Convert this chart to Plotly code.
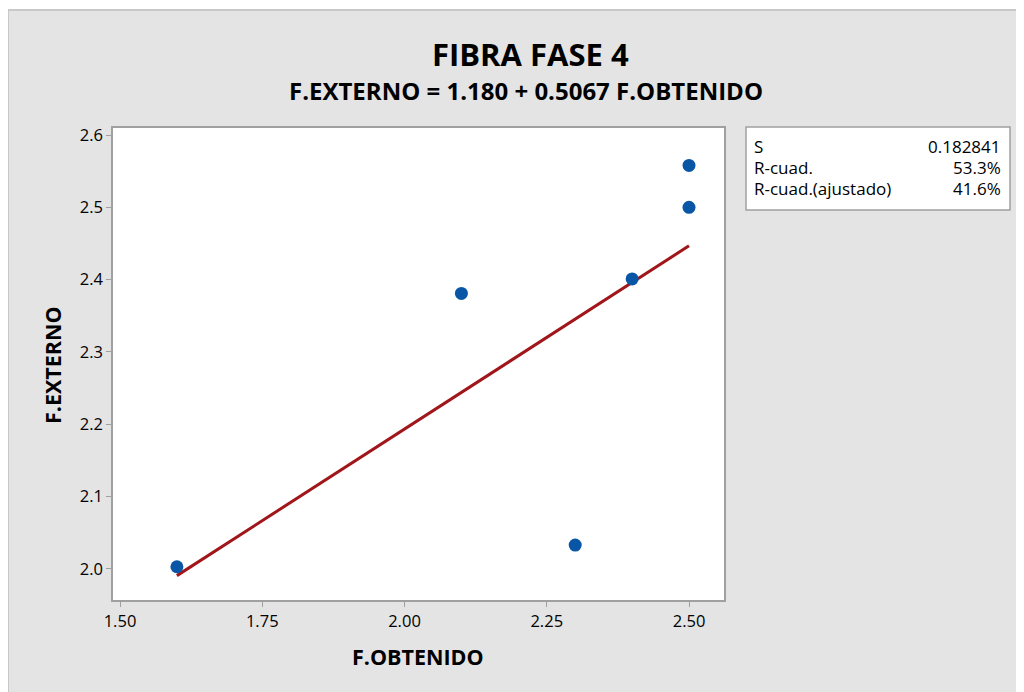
import plotly.graph_objects as go

# observed data
f_obtenido = [1.60, 2.10, 2.30, 2.40, 2.50, 2.50]
f_externo = [2.003, 2.381, 2.033, 2.401, 2.500, 2.558]

# fitted line endpoints (F.EXTERNO = 1.180 + 0.5067 F.OBTENIDO)
fit_x = [1.60, 2.50]
fit_y = [1.9907, 2.4468]

x_ticks = [1.50, 1.75, 2.00, 2.25, 2.50]
y_ticks = [2.0, 2.1, 2.2, 2.3, 2.4, 2.5, 2.6]

stat_names = ["S", "R-cuad.", "R-cuad.(ajustado)"]
stat_values = ["0.182841", "53.3%", "41.6%"]

# page body adds an 8px offset, so the figure is a bit smaller
OFF = 8
W, H = 1024 - OFF, 692 - OFF
L, R, T, B = 113 - OFF, 724 - OFF, 128 - OFF, 600 - OFF
FONT = "Open Sans, Noto Sans, sans-serif"
GRAY_BG = "#e4e4e4"


def px_x(px):
    return (px - OFF - L) / (R - L)


def px_y(py):
    return (B - (py - OFF)) / (B - T)


fig = go.Figure()

fig.add_trace(go.Scatter(
    x=fit_x, y=fit_y, mode="lines",
    line=dict(color="#a0161a", width=3),
    showlegend=False, hoverinfo="skip"
))
fig.add_trace(go.Scatter(
    x=f_obtenido, y=f_externo, mode="markers",
    marker=dict(color="#0a56a6", size=13),
    showlegend=False
))

# white strips at the top/left edge plus the panel border
fig.add_shape(type="rect", xref="paper", yref="paper",
              x0=px_x(0), x1=px_x(1030), y0=px_y(10), y1=px_y(-5),
              fillcolor="white", line_width=0, layer="below")
fig.add_shape(type="line", xref="paper", yref="paper",
              x0=px_x(8), x1=px_x(1030), y0=px_y(10), y1=px_y(10),
              line=dict(color="#c8c8c8", width=2), layer="below")
fig.add_shape(type="line", xref="paper", yref="paper",
              x0=px_x(8), x1=px_x(8), y0=px_y(10), y1=px_y(700),
              line=dict(color="#c8c8c8", width=2), layer="below")

# stats box
fig.add_shape(type="rect", xref="paper", yref="paper",
              x0=px_x(746), x1=px_x(1010), y0=px_y(210), y1=px_y(127),
              fillcolor="white", line=dict(color="#a0a0a0", width=1.5))

annotations = []
for i, (name, val) in enumerate(zip(stat_names, stat_values)):
    yy = px_y(146 + 21 * i)
    annotations.append(dict(x=px_x(752), y=yy, xref="paper", yref="paper",
                            text=name, showarrow=False, xanchor="left",
                            yanchor="middle", font=dict(size=17, color="black", family=FONT)))
    annotations.append(dict(x=px_x(1003), y=yy, xref="paper", yref="paper",
                            text=val, showarrow=False, xanchor="right",
                            yanchor="middle", font=dict(size=17, color="black", family=FONT)))

annotations.append(dict(x=px_x(530), y=px_y(54), xref="paper", yref="paper",
                        text="<b>FIBRA FASE 4</b>", showarrow=False,
                        xanchor="center", yanchor="middle",
                        font=dict(size=31, color="black", family=FONT)))
annotations.append(dict(x=px_x(526), y=px_y(90), xref="paper", yref="paper",
                        text="<b>F.EXTERNO = 1.180 + 0.5067 F.OBTENIDO</b>", showarrow=False,
                        xanchor="center", yanchor="middle",
                        font=dict(size=24, color="black", family=FONT)))
annotations.append(dict(x=px_x(418), y=px_y(656), xref="paper", yref="paper",
                        text="<b>F.OBTENIDO</b>", showarrow=False,
                        xanchor="center", yanchor="middle",
                        font=dict(size=21.5, color="black", family=FONT)))
annotations.append(dict(x=px_x(52), y=px_y(365), xref="paper", yref="paper",
                        text="<b>F.EXTERNO</b>", showarrow=False, textangle=-90,
                        xanchor="center", yanchor="middle",
                        font=dict(size=21.5, color="black", family=FONT)))

axis_common = dict(showgrid=False, zeroline=False, showline=True, mirror=True,
                   linecolor="#a0a0a0", linewidth=1.5, ticks="outside",
                   ticklen=5, tickcolor="#a0a0a0",
                   tickfont=dict(size=16.5, color="black", family=FONT))

fig.update_layout(
    width=W, height=H,
    margin=dict(l=L, r=W - R, t=T, b=H - B),
    paper_bgcolor=GRAY_BG, plot_bgcolor="white",
    xaxis=dict(range=[1.4877, 2.5615], tickvals=x_ticks, tickformat=".2f", **axis_common),
    yaxis=dict(range=[1.957, 2.6097], tickvals=y_ticks, tickformat=".1f", **axis_common),
    annotations=annotations,
    font=dict(family=FONT),
)

fig.write_html("out.html")
